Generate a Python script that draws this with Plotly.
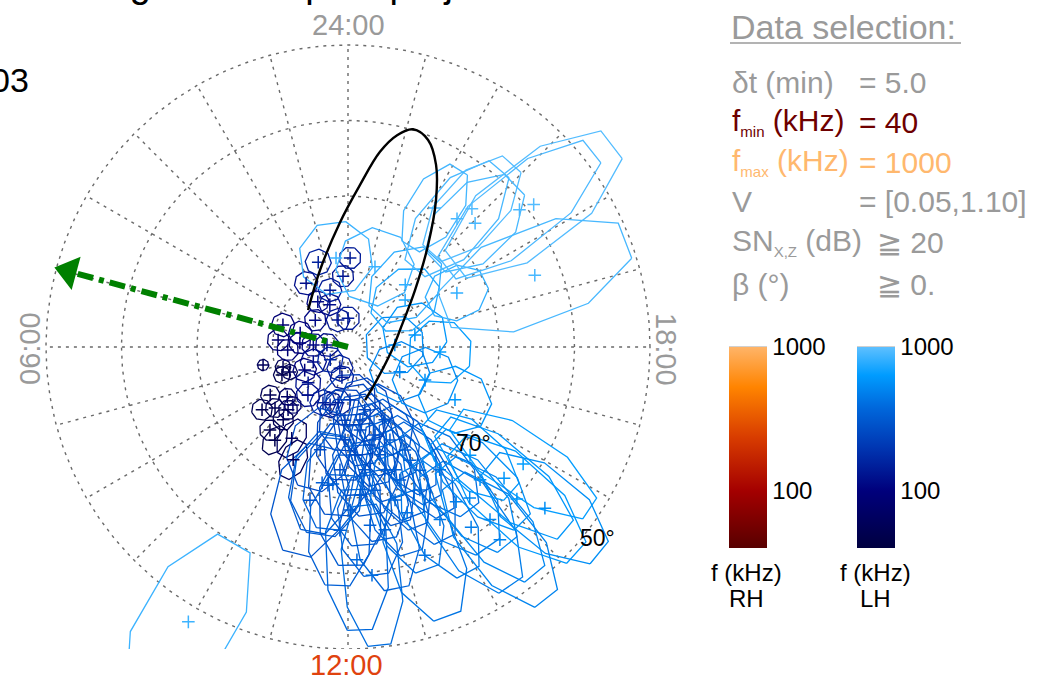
import numpy as np
import plotly.graph_objects as go
from plotly.colors import sample_colorscale

W, H = 1041, 682
FONT = "Liberation Sans, Arial, Helvetica, sans-serif"
GREY = "#9a9a9a"

# ---------------- LH source footprints ----------------
# MLT (h), latitude (deg), frequency (kHz), half-extent along latitude (deg),
# half-extent across latitude (deg of arc)
fp_mlt = [
    1.29, 23.91, 0.27, 2.22, 2.25, 1.55, 1.35, 0.00, 3.38, 4.75, 5.62, 4.91, 5.68, 5.78, 5.64,
    6.80, 7.14, 7.53, 7.55, 7.55, 10.6, 11.25, 8.80, 9.35, 8.41, 8.66, 8.62, 9.09, 9.22, 9.12,
    9.10, 10.39, 10.85, 11.33, 9.46, 9.89, 10.27, 8.11, 6.19, 1.17, 7.87, 8.39,
    11.84, 12.55, 12.84, 13.10, 12.25, 13.62, 12.53, 13.39, 11.75, 12.71, 13.92, 10.99, 11.45,
    12.16, 12.40, 13.31, 13.35, 14.33, 14.59, 14.29, 15.75, 15.33, 15.20, 15.38, 11.28, 11.58,
    12.14, 13.00, 13.79, 13.42, 13.78, 14.45, 12.05, 12.76, 11.07, 12.62, 13.14, 11.88, 13.11,
    13.93, 14.02, 13.14, 12.31, 12.47, 11.83, 13.87, 14.63, 14.55, 15.23, 14.99,
    18.68, 17.79, 16.45, 16.29, 16.25, 18.16, 20.63, 19.76,
    0.51, 22.76, 21.16, 21.31, 21.21, 20.95, 21.87, 20.50, 20.58, 19.40, 9.99,
]
fp_lat = [
    78.1, 78.2, 80.6, 79.9, 82.8, 83.9, 86.2, 86.2, 84.4, 80.9, 80.7, 83.4, 83.6, 85.4, 87.2,
    78.5, 81.0, 80.5, 81.6, 85.0, 87.0, 85.9, 82.9, 81.7, 75.9, 77.4, 79.6, 78.5, 77.1, 74.9,
    79.4, 81.9, 82.0, 82.5, 74.3, 75.8, 73.4, 77.9, 82.0, 82.1, 83.5, 87.1,
    80.3, 78.9, 76.7, 75.1, 75.7, 76.5, 73.6, 72.6, 73.7, 70.7, 72.9, 75.9, 71.5,
    61.8, 59.6, 66.7, 60.6, 65.0, 64.3, 61.1, 62.1, 63.0, 59.9, 56.3, 71.7, 71.75,
    83.0, 81.4, 79.2, 71.1, 68.8, 69.7, 68.4, 65.3, 69.1, 80.2, 77.8, 77.7, 73.0,
    74.4, 71.1, 68.8, 70.3, 66.2, 65.7, 64.1, 60.4, 57.5, 68.4, 65.2,
    81.0, 77.8, 78.9, 82.4, 74.2, 83.8, 80.2, 73.9,
    78.1, 78.8, 78.8, 67.7, 65.4, 66.5, 68.3, 59.0, 60.9, 63.5, 47.9,
]
fp_freq = [
    150, 140, 130, 120, 110, 120, 130, 140, 110, 90, 80, 100, 95, 110, 120,
    60, 55, 50, 60, 120, 140, 140, 130, 120, 50, 55, 70, 60, 55, 50,
    80, 150, 140, 160, 50, 65, 60, 55, 90, 140, 100, 160,
    230, 260, 280, 300, 260, 320, 300, 330, 280, 330, 350, 260, 320,
    380, 400, 420, 430, 480, 520, 470, 650, 600, 620, 560, 330, 350,
    220, 240, 280, 340, 380, 420, 320, 360, 300, 240, 270, 250, 310,
    330, 360, 360, 320, 350, 340, 450, 520, 500, 600, 560,
    600, 650, 550, 500, 600, 550, 750, 800,
    850, 850, 800, 900, 950, 900, 880, 950, 920, 900, 850,
]
fp_dlat = [
    1.6, 1.35, 1.35, 1.45, 1.35, 1.35, 1.45, 1.45, 1.35, 1.45, 1.35, 1.45, 1.35, 1.45, 1.45,
    0.7, 0.95, 1.05, 0.95, 1.6, 1.6, 1.45, 1.6, 1.45, 1.3, 1.2, 1.05, 1.2, 1.3, 1.3,
    1.05, 1.6, 1.6, 1.6, 2.0, 2.6, 2.6, 1.2, 1.35, 1.45, 1.45, 1.6,
    4.0, 4.6, 5.3, 6.0, 5.3, 5.3, 6.0, 6.6, 6.0, 6.6, 6.0, 5.3, 6.6,
    9.3, 9.3, 7.9, 8.6, 7.3, 7.9, 9.3, 10.6, 10.6, 10.6, 9.3, 6.6, 6.0,
    3.3, 4.0, 4.6, 6.6, 7.3, 6.6, 7.3, 7.9, 7.3, 4.6, 5.3, 5.3, 7.3,
    6.0, 6.6, 7.3, 6.6, 6.6, 7.3, 7.9, 9.3, 9.9, 7.3, 7.9,
    4.0, 4.0, 4.0, 3.7, 4.6, 3.7, 4.6, 4.0,
    4.6, 4.8, 5.3, 8.6, 7.9, 7.3, 6.0, 13.0, 12.3, 12.8, 12.0,
]
fp_dlon = [
    1.6, 1.35, 1.35, 1.45, 1.35, 1.35, 1.45, 1.45, 1.35, 1.45, 1.35, 1.45, 1.35, 1.45, 1.45,
    0.7, 0.95, 1.05, 0.95, 1.6, 1.6, 1.45, 1.6, 1.45, 1.3, 1.2, 1.05, 1.2, 1.3, 1.3,
    1.05, 1.6, 1.6, 1.6, 1.3, 1.6, 1.6, 1.2, 1.35, 1.45, 1.45, 1.6,
    3.3, 3.3, 3.3, 3.7, 4.0, 3.3, 4.0, 3.7, 4.0, 4.0, 3.3, 4.0, 4.6,
    4.0, 3.7, 4.0, 4.6, 4.6, 4.0, 4.6, 4.0, 4.0, 4.6, 4.6, 4.0, 3.7,
    3.3, 3.3, 3.3, 3.3, 3.7, 3.7, 4.0, 4.0, 4.6, 2.9, 2.9, 3.7, 3.3,
    3.3, 3.3, 3.7, 4.0, 4.0, 4.0, 4.0, 4.2, 4.6, 3.7, 3.7,
    4.0, 4.0, 4.0, 3.7, 4.0, 3.7, 3.7, 3.3,
    4.6, 4.8, 4.0, 4.2, 4.0, 4.6, 3.3, 5.6, 4.6, 6.0, 6.0,
]

# Oval drawn in black
oval_mlt = [3.15, 1.33, 0.25, 23.72, 23.38, 23.13, 22.89, 22.59, 22.28, 21.94, 21.46,
            20.69, 19.21, 17.74, 14.75, 13.19]
oval_lat = [82.8, 79.15, 73.5, 68.5, 63.8, 61.2, 59.9, 60.6, 63.2, 67.3, 72.8,
            78.35, 82.75, 84.16, 84.2, 82.6]

# Direction arrow (from the pole)
arrow_mlt = 4.99
arrow_lat = 50.2

# Selection parameters
SUB = '<sub><span style="font-size:15px">{}</span></sub>'
sel_labels = ["δt (min)", "f" + SUB.format("min") + " (kHz)", "f" + SUB.format("max") + " (kHz)",
              "V", "SN" + SUB.format("X,Z") + " (dB)", "β (°)"]
sel_values = ["= 5.0", "= 40", "= 1000", "= [0.05,1.10]", "≧ 20", "≧ 0."]
sel_colors = [GREY, "#6e0000", "#ffb86e", GREY, GREY, GREY]

F_MIN, F_MAX = 40.0, 1000.0
cbar_ticks = [100, 1000]

LH_SCALE = [[0.0, "#000040"], [0.285, "#00007c"], [0.5, "#0036b2"],
            [0.7, "#0068dc"], [0.86, "#009cff"], [1.0, "#5ec0ff"]]
RH_SCALE = [[0.0, "#580000"], [0.285, "#a40000"], [0.55, "#d83c00"],
            [0.8, "#ff8400"], [1.0, "#ffb468"]]

# ---------------- geometry ----------------
PX_PER_DEG = 7.55
CX, CY = 348.0, 347.0        # pole on the page
AX_R, AX_B = 700.0, 649.0    # right / bottom edge of the map area


def to_xy(mlt, lat):
    mlt = np.asarray(mlt, dtype=float)
    c = 90.0 - np.asarray(lat, dtype=float)
    phi = np.radians(mlt * 15.0)
    return -c * np.sin(phi), c * np.cos(phi)


def px(x):
    return x / W


def py(y):
    return 1.0 - y / H


fig = go.Figure()

# grid: latitude circles and hourly meridians
grid = dict(color="#6a6a6a", width=1.4, dash="3px,5px")
t = np.linspace(0, 2 * np.pi, 361)
for colat in (10, 20, 30, 40):
    fig.add_trace(go.Scatter(x=colat * np.cos(t), y=colat * np.sin(t), mode="lines",
                             line=grid, hoverinfo="skip"))
for h in range(24):
    gx, gy = to_xy([h, h], [88, 50])
    fig.add_trace(go.Scatter(x=gx, y=gy, mode="lines", line=grid, hoverinfo="skip"))

# footprints
logf = np.log10(np.asarray(fp_freq, dtype=float))
tnorm = np.clip((logf - np.log10(F_MIN)) / (np.log10(F_MAX) - np.log10(F_MIN)), 0, 1)
cols = sample_colorscale(LH_SCALE, list(tnorm))
cx, cy = to_xy(fp_mlt, fp_lat)
alpha = np.radians(22.5 + 45.0 * np.arange(9))
kk = 1.0 / np.cos(np.radians(22.5))
for i in range(len(fp_mlt)):
    phi = np.radians(fp_mlt[i] * 15.0)
    ur = np.array([-np.sin(phi), np.cos(phi)])
    ut = np.array([np.cos(phi), np.sin(phi)])
    a = fp_dlat[i] * kk * np.cos(alpha)
    b = fp_dlon[i] * kk * np.sin(alpha)
    xs = cx[i] + a * ur[0] + b * ut[0]
    ys = cy[i] + a * ur[1] + b * ut[1]
    fig.add_trace(go.Scatter(x=xs, y=ys, mode="lines",
                             line=dict(color=cols[i], width=1.3), hoverinfo="skip"))

cb_common = dict(xpad=0, ypad=0, yanchor="top", y=py(347), len=201, lenmode="pixels",
                 thickness=38, thicknessmode="pixels", outlinewidth=0, ticks="",
                 tickvals=list(np.log10(cbar_ticks)), ticktext=[str(v) for v in cbar_ticks],
                 tickfont=dict(size=24, color="black", family=FONT), xanchor="left")

fig.add_trace(go.Scatter(
    x=cx, y=cy, mode="markers", hoverinfo="skip",
    marker=dict(symbol="cross-thin-open", size=9, line=dict(width=1.5),
                color=logf, colorscale=LH_SCALE, cmin=np.log10(F_MIN), cmax=np.log10(F_MAX),
                showscale=True, colorbar=dict(x=px(857), **cb_common))))

# RH scale (no RH sources selected)
fig.add_trace(go.Scatter(
    x=[None], y=[None], mode="markers", hoverinfo="skip",
    marker=dict(color=[np.log10(F_MIN)], colorscale=RH_SCALE, cmin=np.log10(F_MIN),
                cmax=np.log10(F_MAX), showscale=True, colorbar=dict(x=px(729), **cb_common))))

# oval
ox, oy = to_xy(oval_mlt, oval_lat)
fig.add_trace(go.Scatter(x=ox, y=oy, mode="lines", hoverinfo="skip",
                         line=dict(color="black", width=2.4, shape="spline", smoothing=1.0)))

# arrow
head_back = 1.5  # deg, arrow shaft stops under the head
hx, hy = to_xy([arrow_mlt], [arrow_lat + head_back])
fig.add_trace(go.Scatter(x=[0, hx[0]], y=[0, hy[0]], mode="lines", hoverinfo="skip",
                         line=dict(color="#008000", width=6, dash="16px,6px,5px,6px")))
fig.add_trace(go.Scatter(x=hx, y=hy, mode="markers", hoverinfo="skip",
                         marker=dict(symbol="triangle-left", size=30, angle=15,
                                     color="#008000", line=dict(width=0))))

# ---------------- layout ----------------
xr = [-CX / PX_PER_DEG, (AX_R - CX) / PX_PER_DEG]
yr = [-(AX_B - CY) / PX_PER_DEG, CY / PX_PER_DEG]
axis = dict(visible=False, showgrid=False, zeroline=False, fixedrange=True)

ann = []
# latitude labels
for lat_lab, off in ((70, 0.9), (50, 1.6)):
    lx, ly = to_xy([15.5], [lat_lab - off])
    ann.append(dict(x=lx[0], y=ly[0], xref="x", yref="y", text=f"{lat_lab}°",
                    font=dict(size=23, color="black", family=FONT)))
# hour labels
hour_font = dict(size=29, color=GREY, family=FONT)
ann += [
    dict(x=px(348), y=py(25), text="24:00", font=hour_font),
    dict(x=px(346), y=py(665), text="12:00", font=dict(size=29, color="#e0420e", family=FONT)),
    dict(x=px(30), y=py(349), text="06:00", font=hour_font, textangle=-90),
    dict(x=px(666), y=py(349), text="18:00", font=hour_font, textangle=90),
]
# title remnants
ann.append(dict(x=px(31), y=py(80), text="03", xanchor="right",
                font=dict(size=34, color="black", family=FONT)))
ann.append(dict(x=px(315), y=py(-16), text="Magnetic footprint projection",
                font=dict(size=38, color="black", family=FONT)))
# selection panel
ann.append(dict(x=px(729), y=py(27), text="Data selection:", xanchor="left",
                font=dict(size=34, color=GREY, family=FONT)))
row_y = [82, 122, 162, 202, 242, 284]
for i, (lab, val, col) in enumerate(zip(sel_labels, sel_values, sel_colors)):
    ann.append(dict(x=px(730), y=py(row_y[i]), text=lab, xanchor="left",
                    font=dict(size=30, color=col, family=FONT)))
    vx = 875 if val.startswith("≧") else 857
    ann.append(dict(x=px(vx), y=py(row_y[i]), text=val, xanchor="left",
                    font=dict(size=30, color=col, family=FONT)))
# colour bar captions
for xc, hand in ((746, "RH"), (875, "LH")):
    ann.append(dict(x=px(xc), y=py(572), text="f (kHz)", font=dict(size=24, color="black", family=FONT)))
    ann.append(dict(x=px(xc), y=py(598), text=hand, font=dict(size=24, color="black", family=FONT)))

for a in ann:
    a.setdefault("xref", "paper")
    a.setdefault("yref", "paper")
    a.setdefault("xanchor", "center")
    a.setdefault("yanchor", "middle")
    a.setdefault("showarrow", False)

shapes = [
    dict(type="line", xref="paper", yref="paper", x0=px(730), x1=px(961), y0=py(43), y1=py(43),
         line=dict(color=GREY, width=1.5)),
    dict(type="line", xref="paper", yref="paper", x0=px(729), x1=px(767), y0=py(347.5), y1=py(347.5),
         line=dict(color="#444444", width=1.5)),
    dict(type="line", xref="paper", yref="paper", x0=px(857), x1=px(895), y0=py(347.5), y1=py(347.5),
         line=dict(color="#444444", width=1.5)),
]

fig.update_layout(
    width=W, height=H, margin=dict(l=0, r=0, t=0, b=0),
    paper_bgcolor="white", plot_bgcolor="white", showlegend=False,
    xaxis=dict(range=xr, domain=[0, AX_R / W], **axis),
    yaxis=dict(range=yr, domain=[1 - AX_B / H, 1], **axis),
    annotations=ann, shapes=shapes, font=dict(family=FONT),
)

fig.write_html("out.html")
